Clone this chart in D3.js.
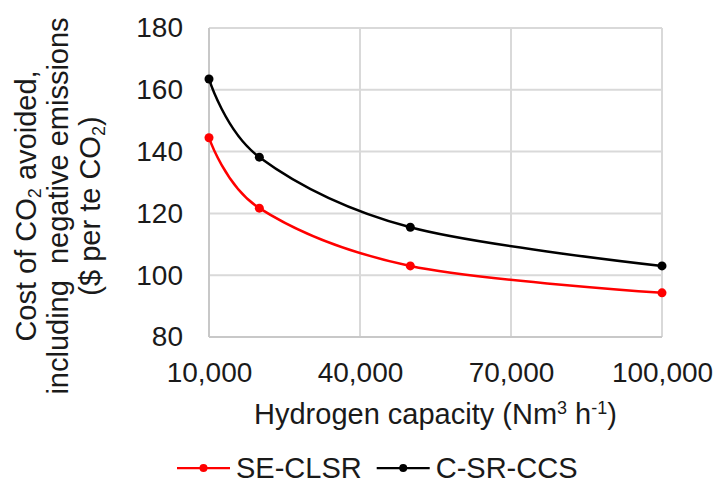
<!DOCTYPE html>
<html>
<head>
<meta charset="utf-8">
<script src="https://cdn.jsdelivr.net/npm/d3@7"></script>
<style>
  html, body { margin: 0; padding: 0; background: #fff; }
  svg { display: block; font-family: "Liberation Sans", Arial, sans-serif; }
</style>
</head>
<body>
<svg id="chart" width="718" height="484"></svg>
<script>
// Hydrogen plant capacity (Nm3/h)
const capacity = [10000, 20000, 50000, 100000];
// Cost of CO2 avoided ($ per te CO2)
const seClsr = [144.5, 121.7, 103.0, 94.3];
const cSrCcs = [163.5, 138.2, 115.5, 103.0];
const seriesNames = ["SE-CLSR", "C-SR-CCS"];
const seriesColors = ["#ff0000", "#000000"];
const xTicks = [10000, 40000, 70000, 100000];
const yTicks = [80, 100, 120, 140, 160, 180];

const svg = d3.select("#chart");
const plot = { left: 209, right: 662, top: 28, bottom: 337 };
const tickFont = 28;
const titleFont = 29;
const textColor = "#1a1a1a";

const x = d3.scaleLinear().domain([10000, 100000]).range([plot.left, plot.right]);
const y = d3.scaleLinear().domain([80, 180]).range([plot.bottom, plot.top]);

// gridlines
const grid = svg.append("g").attr("stroke", "#d9d9d9").attr("stroke-width", 2);
grid.selectAll("line.h").data(yTicks).join("line")
  .attr("x1", plot.left).attr("x2", plot.right)
  .attr("y1", d => y(d)).attr("y2", d => y(d));
grid.selectAll("line.v").data(xTicks).join("line")
  .attr("y1", plot.top).attr("y2", plot.bottom)
  .attr("x1", d => x(d)).attr("x2", d => x(d));

// axis lines
const axisStroke = "#c8c8c8";
svg.append("line").attr("x1", plot.left).attr("x2", plot.right)
  .attr("y1", plot.bottom).attr("y2", plot.bottom)
  .attr("stroke", axisStroke).attr("stroke-width", 2);
svg.append("line").attr("x1", plot.left).attr("x2", plot.left)
  .attr("y1", plot.top).attr("y2", plot.bottom)
  .attr("stroke", axisStroke).attr("stroke-width", 2);

// tick labels via d3 axes (no tick marks or domain path)
const yAxis = d3.axisLeft(y).tickValues(yTicks).tickSize(0).tickPadding(26).tickFormat(d3.format("d"));
const gy = svg.append("g").attr("transform", `translate(${plot.left},0)`).call(yAxis);
const xAxis = d3.axisBottom(x).tickValues(xTicks).tickSize(0).tickPadding(25).tickFormat(d3.format(","));
const gx = svg.append("g").attr("transform", `translate(0,${plot.bottom})`).call(xAxis);
[gx, gy].forEach(g => {
  g.select(".domain").remove();
  g.selectAll("text").attr("font-size", tickFont).attr("fill", textColor)
    .attr("font-family", "Liberation Sans, Arial, sans-serif");
});

// series
const line = d3.line().x(d => x(d[0])).y(d => y(d[1])).curve(d3.curveCardinal.tension(0));
const series = [seClsr, cSrCcs].map((vals, i) => ({
  name: seriesNames[i], color: seriesColors[i],
  pts: capacity.map((c, j) => [c, vals[j]])
}));

series.forEach(s => {
  svg.append("path").datum(s.pts).attr("d", line)
    .attr("fill", "none").attr("stroke", s.color).attr("stroke-width", 2.5);
  svg.append("g").selectAll("circle").data(s.pts).join("circle")
    .attr("cx", d => x(d[0])).attr("cy", d => y(d[1])).attr("r", 4.5)
    .attr("fill", s.color);
});

// y-axis title (three lines, rotated)
const yTitle = svg.append("text")
  .attr("transform", "translate(0,206) rotate(-90)")
  .attr("xml:space", "preserve")
  .attr("font-size", titleFont).attr("fill", textColor).attr("text-anchor", "middle");
const yLines = [
  [["Cost of CO", false], ["2", true], [" avoided,", false]],
  [["including  negative emissions", false]],
  [["($ per te CO", false], ["2", true], [")", false]]
];
const baselines = [36, 68, 100];
yLines.forEach((parts, i) => {
  const t = yTitle.append("tspan").attr("x", 0).attr("y", baselines[i]);
  parts.forEach(([txt, sub], k) => {
    const sp = t.append("tspan").text(txt);
    if (sub) sp.attr("font-size", 18).attr("dy", 5);
    else if (k > 0) sp.attr("dy", -5);
  });
});

// x-axis title with superscripts
const xTitle = svg.append("text")
  .attr("x", (plot.left + plot.right) / 2).attr("y", 424)
  .attr("font-size", titleFont).attr("fill", textColor).attr("text-anchor", "middle");
xTitle.append("tspan").text("Hydrogen capacity (Nm");
xTitle.append("tspan").text("3").attr("font-size", 18).attr("dy", -10);
xTitle.append("tspan").text(" h").attr("dy", 10);
xTitle.append("tspan").text("-1").attr("font-size", 18).attr("dy", -10);
xTitle.append("tspan").text(")").attr("dy", 10);

// legend
const legend = svg.append("g");
const legendY = 468;
let lx = 177;
series.forEach(s => {
  const g = legend.append("g");
  g.append("line").attr("x1", lx).attr("x2", lx + 53)
    .attr("y1", legendY).attr("y2", legendY)
    .attr("stroke", s.color).attr("stroke-width", 2.25);
  g.append("circle").attr("cx", lx + 26.5).attr("cy", legendY).attr("r", 4).attr("fill", s.color);
  const t = g.append("text").attr("x", lx + 59).attr("y", legendY + 10)
    .attr("font-size", titleFont).attr("fill", textColor).text(s.name);
  const w = t.node().getComputedTextLength();
  lx = lx + 59 + w + 15;
});
</script>
</body>
</html>
